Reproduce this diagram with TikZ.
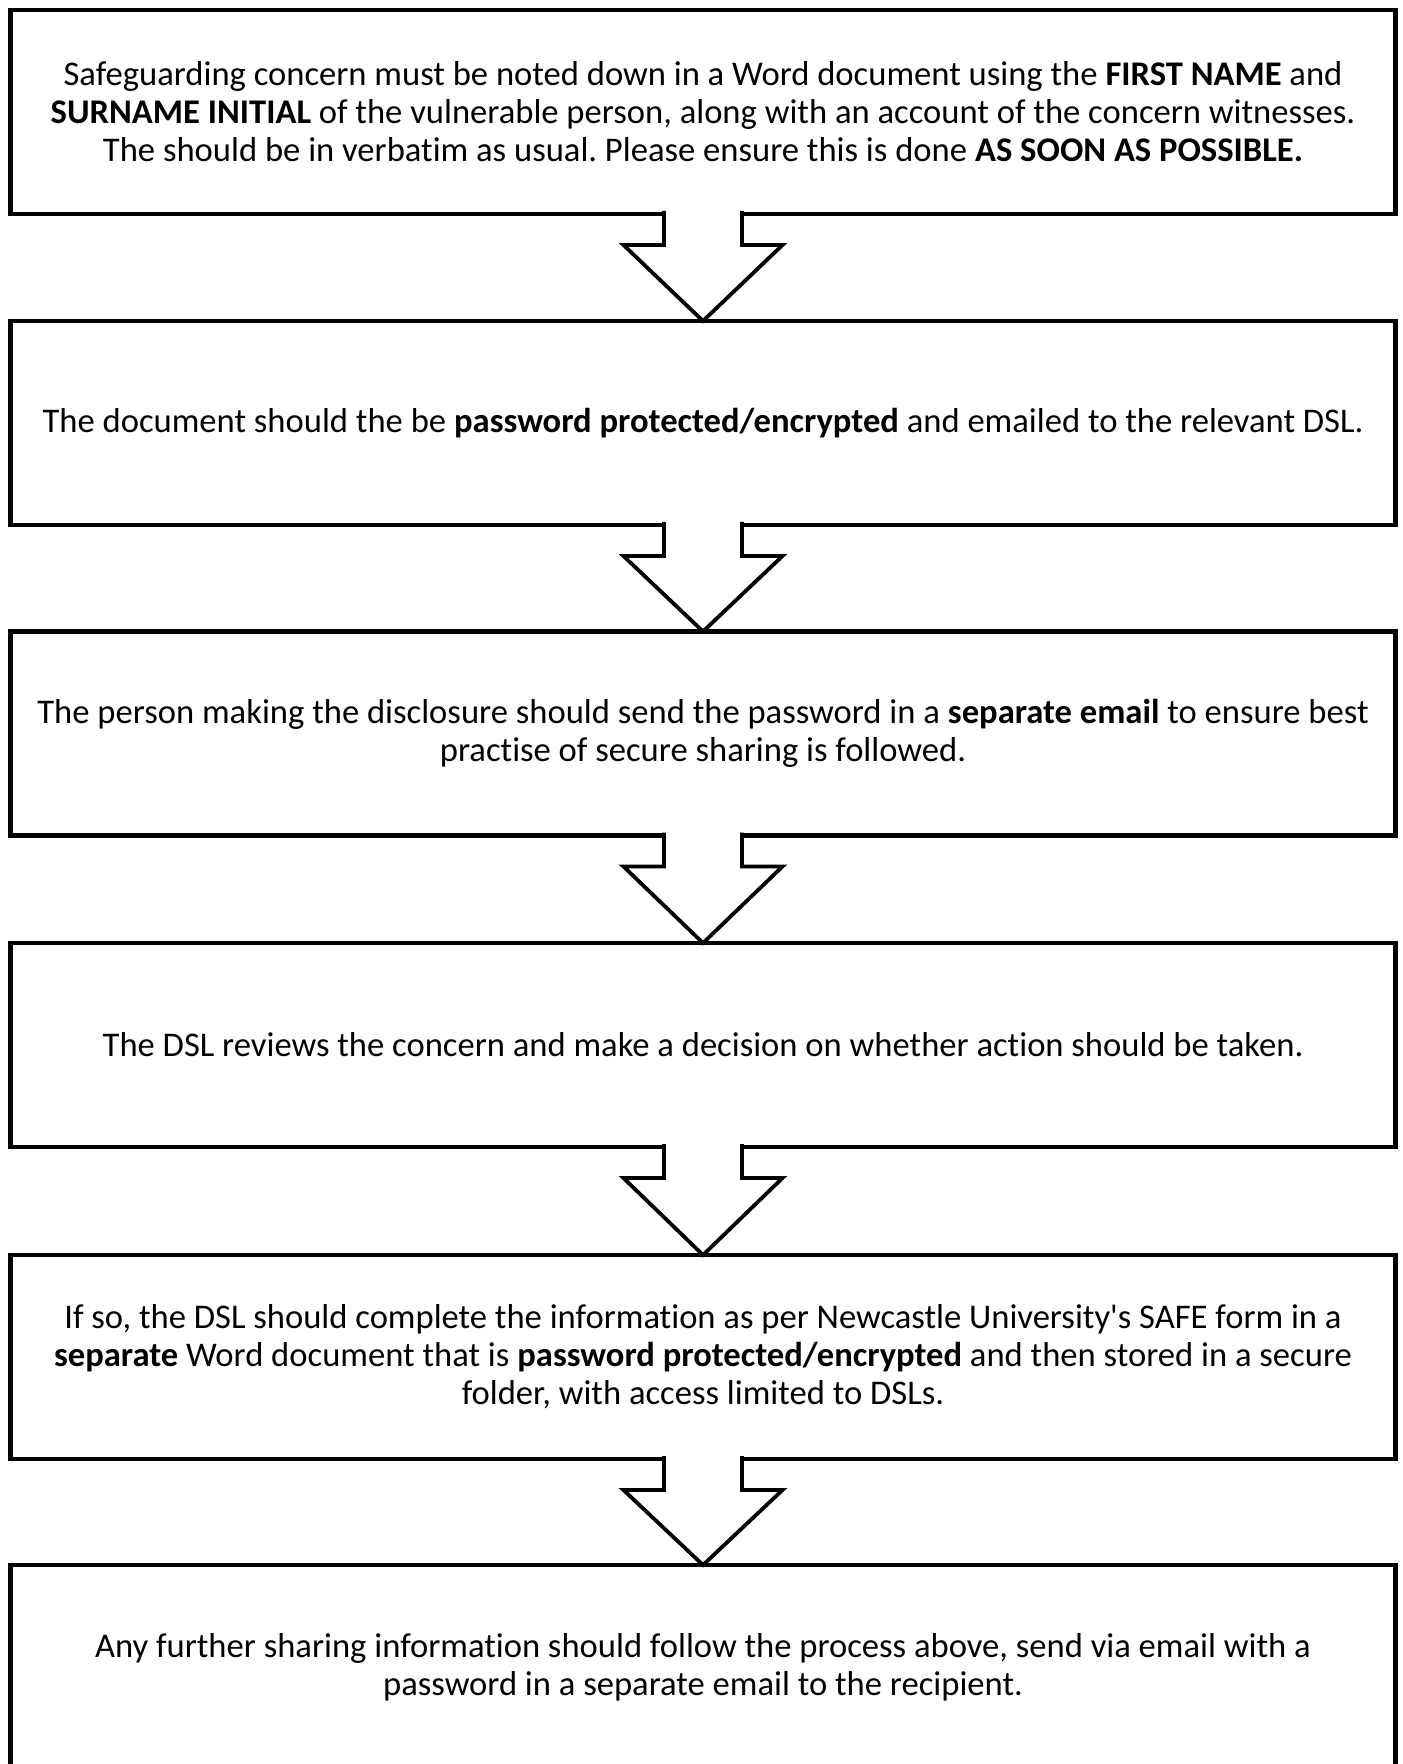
\documentclass[tikz,border=0pt]{standalone}
\usepackage{fontspec}
\setmainfont{Carlito}[Ligatures={TeX,NoCommon}]
\usetikzlibrary{positioning, calc}
\frenchspacing

\tikzset{
  flowbox/.style={rectangle, draw=black, line width=2.25pt, minimum width=692.5pt,
    minimum height=102pt, inner sep=0pt, outer sep=0pt, align=center,
    font=\fontsize{17.3}{19}\selectfont},
  blockarrow/.style={draw=black, fill=white, line width=1.9pt}
}

\begin{document}
\begin{tikzpicture}[x=0.5pt, y=-0.5pt]
  \useasboundingbox (0,0) rectangle (1402,1764);

  \node[flowbox] (b1) at (703,112) {Safeguarding concern must be noted down in a Word document using the \textbf{FIRST NAME} and\\
    \textbf{SURNAME INITIAL} of the vulnerable person, along with an account of the concern witnesses.\\
    The should be in verbatim as usual. Please ensure this is done \textbf{AS SOON AS POSSIBLE.}};
  \node[flowbox] (b2) at (703,423) {The document should the be \textbf{password protected/encrypted} and emailed to the relevant DSL.};
  \node[flowbox] (b3) at (703,733.5) {The person making the disclosure should send the password in a \textbf{separate email} to ensure best\\
    practise of secure sharing is followed.};
  \node[flowbox] (b4) at (703,1045) {The DSL reviews the concern and make a decision on whether action should be taken.};
  \node[flowbox] (b5) at (703,1357) {If so, the DSL should complete the information as per Newcastle University\textquotesingle s SAFE form in a\\
    \textbf{separate} Word document that is \textbf{password protected/encrypted} and then stored in a secure\\
    folder, with access limited to DSLs.};
  \node[flowbox] (b6) at (703,1667) {Any further sharing information should follow the process above, send via email with a\\
    password in a separate email to the recipient.};

  % block arrows between the steps
  \foreach \up/\down in {b1/b2, b2/b3, b3/b4, b4/b5, b5/b6}
    \draw[blockarrow] ($(\up.south)+(-39,-3)$) -- ($(\up.south)+(-39,31)$)
      -- ($(\up.south)+(-79.5,31)$) -- (\down.north) -- ($(\up.south)+(79.5,31)$)
      -- ($(\up.south)+(39,31)$) -- ($(\up.south)+(39,-3)$);
\end{tikzpicture}
\end{document}
